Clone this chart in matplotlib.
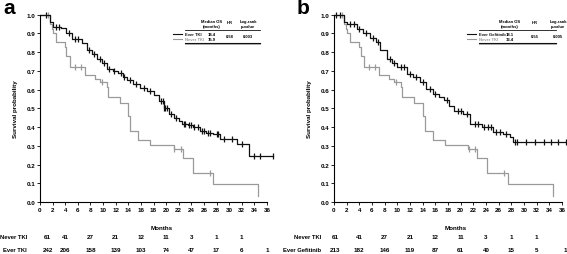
import numpy as np
import matplotlib
matplotlib.use("Agg")
import matplotlib.pyplot as plt

plt.rcParams['font.family'] = ['Liberation Sans', 'DejaVu Sans']

# Kaplan-Meier steps (months, survival)
never_t = [0, 1.6, 1.85, 2.1, 2.6, 4.0, 4.2, 4.8, 7.1, 8.7, 9.5, 10.6, 10.8, 12.7,
           14.0, 14.3, 15.6, 17.5, 21.2, 22.6, 24.2, 27.4, 34.6]
never_s = [1.0, 0.95, 0.925, 0.90, 0.854, 0.827, 0.78, 0.72, 0.68, 0.658, 0.64, 0.613,
           0.56, 0.528, 0.46, 0.38, 0.333, 0.305, 0.283, 0.233, 0.155, 0.096, 0.03]
never_cens = [1.2, 5.5, 6.5, 9.8, 21.3, 22.3, 26.9]

evertki_t = [0, 1.6, 2.1, 3.4, 4.2, 5.0, 6.6, 7.4, 8.2, 9.0, 9.8, 10.6, 11.5, 12.4, 13.1,
             13.8, 14.8, 15.9, 17.0, 18.0, 18.8, 19.6, 20.4, 21.2, 22.0, 22.5, 23.4, 24.3,
             25.4, 26.4, 27.5, 28.6, 31.2, 33.2, 37.0]
evertki_s = [1.0, 0.96, 0.935, 0.93, 0.90, 0.87, 0.85, 0.81, 0.79, 0.765, 0.74, 0.71, 0.70,
             0.69, 0.67, 0.65, 0.63, 0.61, 0.59, 0.57, 0.54, 0.50, 0.47, 0.45, 0.43, 0.417,
             0.41, 0.40, 0.38, 0.37, 0.364, 0.337, 0.31, 0.248, 0.248]
evertki_cens = [1.0, 2.5, 3.0, 4.6, 5.5, 6.0, 7.8, 8.6, 9.5, 10.2, 11.0, 11.8, 12.8, 13.4,
                14.2, 15.3, 16.5, 17.5, 19.2, 19.5, 19.7, 19.9, 20.1, 20.8, 21.6, 22.8, 23.0,
                23.6, 24.0, 24.5, 25.0, 25.7, 26.0, 26.6, 27.0, 28.0, 28.3, 29.2, 30.4, 32.0,
                33.9, 34.9, 37.0]

evergef_t = [0, 1.5, 2.0, 3.6, 4.6, 5.7, 6.7, 7.3, 8.3, 9.1, 9.9, 11.5, 12.5, 13.6, 14.6,
             15.7, 16.5, 17.3, 18.1, 18.9, 20.4, 21.5, 23.3, 25.1, 26.7, 27.8, 28.3, 36.7]
evergef_s = [1.0, 0.96, 0.95, 0.925, 0.90, 0.875, 0.854, 0.81, 0.765, 0.74, 0.72, 0.684,
             0.667, 0.64, 0.604, 0.578, 0.56, 0.542, 0.515, 0.488, 0.47, 0.417, 0.40, 0.373,
             0.364, 0.346, 0.32, 0.32]
evergef_cens = [0.3, 1.0, 2.5, 3.2, 4.0, 5.0, 6.2, 7.0, 8.8, 9.5, 10.5, 11.0, 12.0, 13.0,
                14.0, 15.2, 16.0, 17.8, 19.5, 20.0, 21.0, 22.3, 22.7, 23.7, 24.3, 24.8, 25.5,
                26.2, 27.2, 28.6, 28.9, 30.3, 31.8, 33.2, 34.2, 35.4, 36.7]

# numbers at risk
risk_months = [0, 4, 8, 12, 16, 20, 24, 28, 32, 36]
never_risk = [61, 41, 27, 21, 12, 11, 3, 1, 1]
evertki_risk = [242, 206, 158, 139, 103, 74, 47, 17, 6, 1]
evergef_risk = [213, 182, 146, 119, 87, 61, 40, 15, 5, 1]

BLACK = '#111111'
GREY = '#9a9a9a'
W, H = 567, 255

fig = plt.figure(figsize=(W / 100, H / 100), dpi=100)


def px(x, y):
    return x / W, 1 - y / H


def surv_at(t, s, times):
    idx = np.searchsorted(t, times, side='right') - 1
    return np.asarray(s)[np.clip(idx, 0, len(s) - 1)]


def panel(x0, x1, letter, ever_t, ever_s, ever_cens, ever_name, ever_risk,
          med, hr, p, leg):
    ax = fig.add_axes([x0 / W, 1 - 203 / H, (x1 - x0) / W, 187.3 / H])
    for t, s, c, col in [(never_t, never_s, never_cens, GREY),
                         (ever_t, ever_s, ever_cens, BLACK)]:
        ax.step(t, s, where='post', color=col, lw=0.9, clip_on=False)
        ax.plot(c, surv_at(t, s, c), ls='none', marker='|', ms=4.5, mew=0.9,
                color=col, clip_on=False)
    ax.set_xlim(0, 36)
    ax.set_ylim(0, 1.0)
    ax.set_xticks(np.arange(0, 37, 2))
    ax.set_yticks(np.arange(0, 1.01, 0.1))
    ax.set_yticklabels([f'{v:.1f}' for v in np.arange(0, 1.01, 0.1)])
    ax.tick_params(labelsize=4.5, length=2, width=0.6, pad=1.5)
    for lab in ax.get_xticklabels() + ax.get_yticklabels():
        lab.set_fontweight('bold')
    for sp in ['top', 'right']:
        ax.spines[sp].set_visible(False)
    for sp in ['left', 'bottom']:
        ax.spines[sp].set_linewidth(0.8)
    ax.set_ylabel('Survival probability', fontsize=4.5, fontweight='bold', labelpad=6)

    fig.text(*px(x0 - 37, 14), letter, fontsize=15, fontweight='bold', va='baseline')
    fig.text(*px((x0 + x1) / 2 + 8, 228), 'Months', fontsize=4.5, fontweight='bold',
             ha='center', va='center')

    # risk table
    scale = (x1 - x0) / 36
    for row_y, name, vals in [(238, 'Never TKI', never_risk), (251, ever_name, ever_risk)]:
        fig.text(*px(x0 - 13, row_y), name, fontsize=4.2, fontweight='bold',
                 ha='right', va='center')
        for m, v in zip(risk_months, vals):
            xm = m if m > 0 else leg['first']
            if m == 36:
                xm = leg['last']
            fig.text(*px(x0 + xm * scale, row_y), str(v), fontsize=4.5,
                     fontweight='bold', ha='center', va='center')

    # legend table
    lx, tx, mx, hx, prx, rx = leg['cols']
    fig.text(*px(mx, 24.5), 'Median OS\n(months)', fontsize=3, fontweight='bold',
             ha='center', va='center', linespacing=1.1)
    fig.text(*px(hx, 23), 'HR', fontsize=3, fontweight='bold', ha='center', va='center')
    fig.text(*px(prx, 24.5), 'Log-rank\np-value', fontsize=3, fontweight='bold',
             ha='center', va='center', linespacing=1.1)
    fig.add_artist(plt.Line2D([tx / W, rx / W], [1 - 31 / H] * 2, color=BLACK, lw=0.6))
    fig.add_artist(plt.Line2D([tx / W, rx / W], [1 - 43.5 / H] * 2, color=BLACK, lw=0.8))
    fig.add_artist(plt.Line2D([tx / W, rx / W], [1 - 44.7 / H] * 2, color=GREY, lw=0.6))
    for row_y, name, col, m in [(34.5, ever_name, BLACK, med[0]),
                                (40, 'Never TKI', GREY, med[1])]:
        fig.add_artist(plt.Line2D([lx / W, (lx + 9) / W], [1 - row_y / H] * 2,
                                  color=col, lw=0.8))
        fig.text(*px(tx, row_y), name, fontsize=3, fontweight='bold', color=col,
                 va='center')
        fig.text(*px(mx, row_y), m, fontsize=3, fontweight='bold', ha='center',
                 va='center')
    fig.text(*px(hx, 37.5), hr, fontsize=3, fontweight='bold', ha='center', va='center')
    fig.text(*px(prx, 37.5), p, fontsize=3, fontweight='bold', ha='center', va='center')
    return ax


panel(40, 267, 'a', evertki_t, evertki_s, evertki_cens, 'Ever TKI', evertki_risk,
      ['18.4', '15.9'], '0.58', '0.003',
      {'cols': (173, 185, 212, 230, 248, 260), 'first': 1.2, 'last': 36})
panel(334, 562, 'b', evergef_t, evergef_s, evergef_cens, 'Ever Gefitinib', evergef_risk,
      ['18.1', '13.4'], '0.55', '0.005',
      {'cols': (467, 479, 510, 535, 558, 556), 'first': 0.2, 'last': 36.6})

fig.savefig('out.png', dpi=100)
